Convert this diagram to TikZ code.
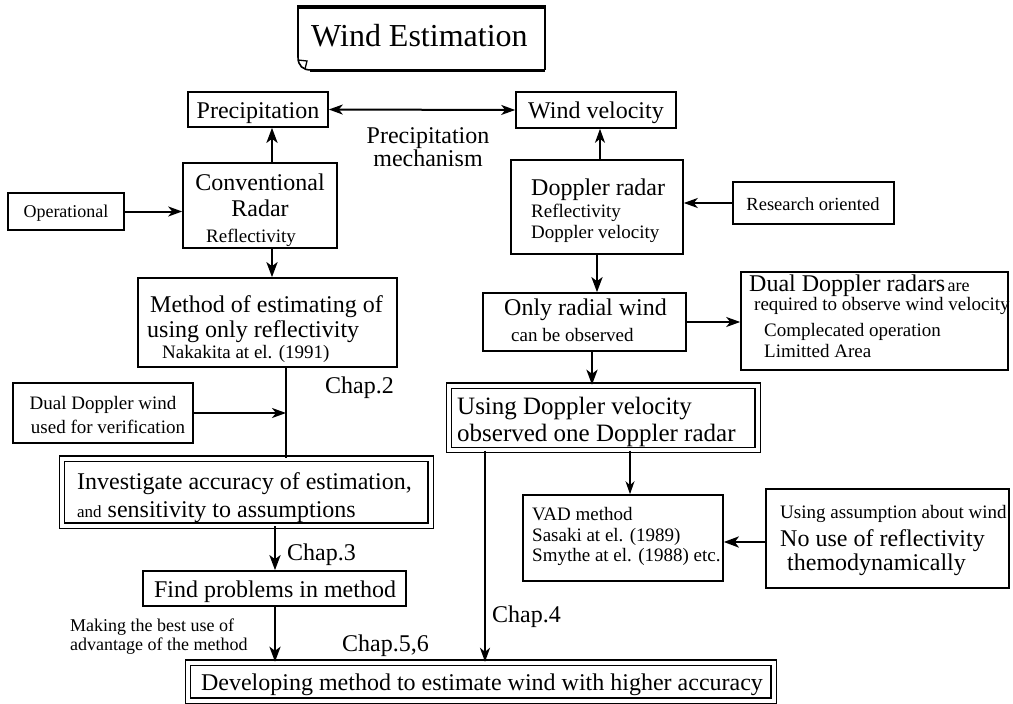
\documentclass[tikz,border=0pt]{standalone}
\usepackage{fontspec}
\setmainfont{Liberation Serif}
\usetikzlibrary{arrows.meta,calc,fit}
\newcommand{\bgf}{\fontsize{24}{26}\selectfont}
\newcommand{\smf}{\fontsize{19}{21}\selectfont}
\newcommand{\tnf}{\fontsize{18}{20}\selectfont}
\begin{document}
\begin{tikzpicture}[x=1pt,y=-1pt,
  box/.style={draw, line width=1.6pt, inner sep=0pt},
  dbox/.style={draw, double, double distance=4pt, line width=1.4pt, inner sep=0pt},
  big/.style={font=\bgf},
  sml/.style={font=\smf},
  tiny/.style={font=\tnf},
  t/.style={anchor=base west, inner sep=0pt},
  tc/.style={anchor=base, inner sep=0pt},
  arr/.style={line width=2pt, -{Stealth[length=14pt,width=10pt,inset=4pt]}},
  arrT/.style={line width=2.8pt, -{Stealth[length=15pt,width=11pt,inset=4pt]}},
  arrt/.style={line width=1.4pt, -{Stealth[length=13pt,width=9pt,inset=4pt]}},
  darr/.style={line width=2pt, {Stealth[length=14pt,width=10pt,inset=4pt]}-{Stealth[length=14pt,width=10pt,inset=4pt]}}
]
\useasboundingbox (0,0) rectangle (1013,704);
\fill[white] (0,0) rectangle (1013,704);

% title
\draw[line width=1.6pt] (298,57) -- (298,7);
\draw[line width=3.5pt] (297,7) -- (546,7);
\draw[line width=1.6pt] (545,7) -- (545,70);
\draw[line width=3pt] (545,70) -- (310,70);
\draw[line width=1.6pt] (298,57) .. controls (298,66) and (303,70) .. (311,70);
\draw[line width=1.3pt] (298,60) -- (307,61) -- (305,69);
\node[t, font=\fontsize{32}{34}\selectfont] (title) at (311,46) {Wind Estimation};

% left column
\node[box, fit={(188,92) (328,127)}] (prec) {};
\node[tc, big] (prect) at (258,118) {Precipitation};
\node[box, fit={(183,163) (337,248)}] (conv) {};
\node[tc, big] (conv1) at (260,190) {Conventional};
\node[tc, big] (conv2) at (260,216) {Radar};
\node[tc, sml] (conv3) at (251,242) {Reflectivity};
\node[box, fit={(8,193) (124,230)}] (op) {};
\node[tc, tiny] (opt) at (66,217) {Operational};
\node[box, fit={(138,278) (397,367)}] (meth) {};
\node[t, big] (meth1) at (150,312) {Method of estimating of};
\node[t, big] (meth2) at (147,337) {using only reflectivity};
\node[t, sml] (meth3) at (162,358) {Nakakita at el. (1991)};
\node[box, fit={(13,383) (193,443)}] (ddw) {};
\node[tc, sml] (ddw1) at (103,409) {Dual Doppler wind};
\node[tc, sml] (ddw2) at (108,433) {used for verification};
\node[dbox, fit={(62,458.5) (430.5,525.5)}] (inv) {};
\node[t, big] (inv1) at (77,489) {Investigate accuracy of estimation,};
\node[t, big] (inv2) at (77,517) {{\fontsize{17}{20}\selectfont and} sensitivity to assumptions};
\node[box, fit={(143,571) (406,606)}] (find) {};
\node[tc, big] (findt) at (275,597) {Find problems in method};
\node[t, tiny] (mk1) at (70,631) {Making the best use of};
\node[t, tiny] (mk2) at (70,650) {advantage of the method};
\node[dbox, fit={(188,662.5) (773.5,700.5)}] (final) {};
\node[tc, big] (finalt) at (482,690) {Developing method to estimate wind with higher accuracy};

% right column
\node[box, fit={(516,92) (676,128)}] (wind) {};
\node[tc, big] (windt) at (596,118) {Wind velocity};
\node[tc, big] (mech1) at (428,143) {Precipitation};
\node[tc, big] (mech2) at (428,166) {mechanism};
\node[box, fit={(511,160) (683,254)}] (dop) {};
\node[t, big] (dop1) at (531,195) {Doppler radar};
\node[t, sml] (dop2) at (531,217) {Reflectivity};
\node[t, sml] (dop3) at (531,238.5) {Doppler velocity};
\node[box, fit={(733,182) (894,224)}] (ro) {};
\node[tc, font=\fontsize{18.5}{20}\selectfont] (rot) at (813,210) {Research oriented};
\node[box, fit={(483,293) (686,351)}] (only) {};
\node[t, big] (only1) at (504,315) {Only radial wind};
\node[t, sml] (only2) at (511,341) {can be observed};
\node[box, fit={(741,272) (1008,370)}] (ddr) {};
\node[t] (ddr1) at (749,291) {{\bgf Dual Doppler radars} {\tnf are}};
\node[t, sml] (ddr2) at (754,310) {required to observe wind velocity};
\node[t, sml] (ddr3) at (764,336) {Complecated operation};
\node[t, sml] (ddr4) at (764,357) {Limitted Area};
\node[dbox, fit={(449,385.5) (757.5,450)}] (using) {};
\node[t, font=\fontsize{25}{27}\selectfont] (us1) at (457,414) {Using Doppler velocity};
\node[t, font=\fontsize{25}{27}\selectfont] (us2) at (457,441) {observed one Doppler radar};
\node[box, fit={(523,495) (723,581)}] (vad) {};
\node[t, sml] (vad1) at (532,520) {VAD method};
\node[t, sml] (vad2) at (532,541) {Sasaki at el. (1989)};
\node[t, sml] (vad3) at (532,561) {Smythe at el. (1988) etc.};
\node[box, fit={(766,489) (1009,588)}] (ua) {};
\node[t, sml] (ua1) at (780,518) {Using assumption about wind};
\node[t, big] (ua2) at (780,546) {No use of reflectivity};
\node[t, big] (ua3) at (787,570) {themodynamically};

% chapter labels
\node[t, big] (ch2) at (325,393) {Chap.2};
\node[t, big] (ch3) at (287,560) {Chap.3};
\node[t, big] (ch4) at (492,622) {Chap.4};
\node[t, big] (ch56) at (342,651) {Chap.5,6};

% connectors
\coordinate (xa) at (272,0);
\coordinate (xb) at (286,0);
\coordinate (xc) at (275,0);
\coordinate (xd) at (600,0);
\coordinate (xe) at (597,0);
\coordinate (xf) at (592,0);
\coordinate (xg) at (485,0);
\coordinate (xh) at (630,0);
\coordinate (yu) at (0,542);

\draw[darr] (prec.east) -- (wind.west);
\draw[arrT] (xa |- conv.north) -- (xa |- prec.south);
\draw[arrT] (xa |- conv.south) -- (xa |- meth.north);
\draw[arr] (op.east) -- (op.east -| conv.west);
\draw[line width=2.8pt] (xb |- meth.south) -- (xb |- inv.north);
\draw[arr] (ddw.east) -- (ddw.east -| xb);
\draw[arrT] (xc |- inv.south) -- (xc |- find.north);
\draw[arrT] (xc |- find.south) -- (xc |- final.north);
\draw[arr] (xd |- dop.north) -- (xd |- wind.south);
\draw[arr] (ro.west) -- (ro.west -| dop.east);
\draw[arrT] (xe |- dop.south) -- (xe |- only.north);
\draw[arr] (only.east) -- (only.east -| ddr.west);
\draw[arrT] (xf |- only.south) -- (xf |- using.north);
\draw[arr] (xg |- using.south) -- (xg |- final.north);
\draw[arrt] (xh |- using.south) -- (xh |- vad.north);
\draw[arrT] (ua.west |- yu) -- (vad.east |- yu);
\end{tikzpicture}
\end{document}
